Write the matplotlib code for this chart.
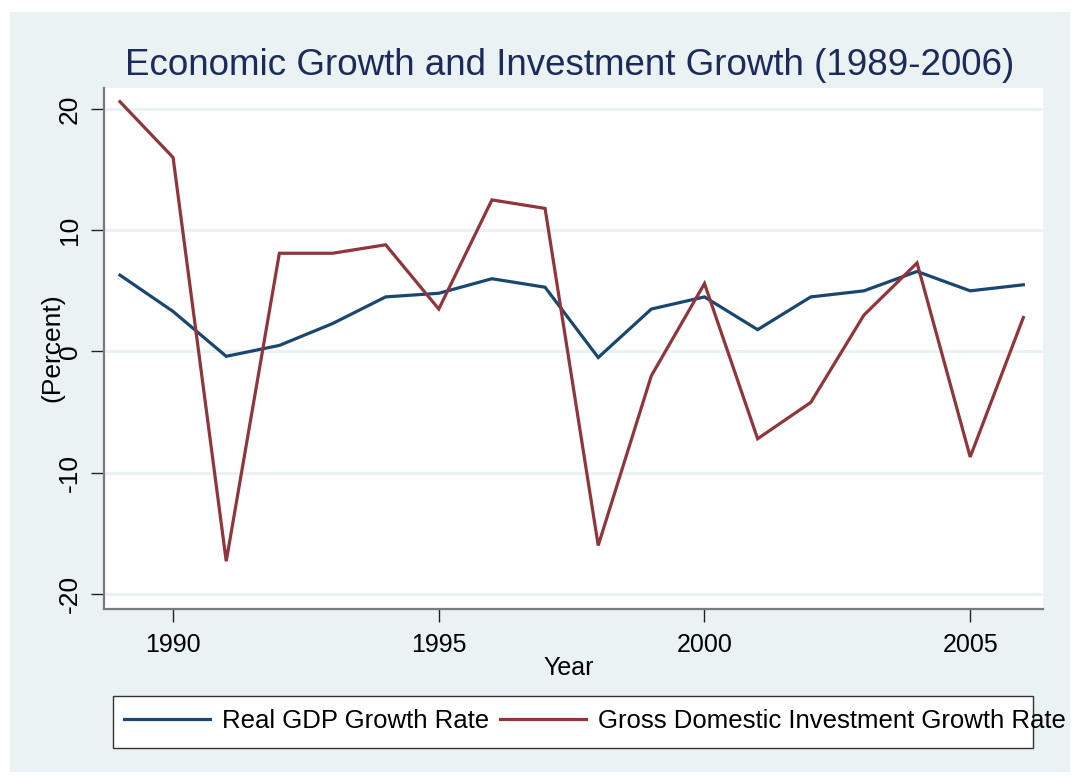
import matplotlib
matplotlib.use('Agg')
import matplotlib.pyplot as plt
from matplotlib.patches import Rectangle

# ---- data ----
years = list(range(1989, 2007))
gdp_growth = [6.3, 3.3, -0.4, 0.5, 2.3, 4.5, 4.8, 6.0, 5.3, -0.5,
              3.5, 4.5, 1.8, 4.5, 5.0, 6.6, 5.0, 5.5]
inv_growth = [20.6, 16.0, -17.3, 8.1, 8.1, 8.8, 3.5, 12.5, 11.8, -16.0,
              -2.0, 5.6, -7.2, -4.2, 3.0, 7.3, -8.7, 2.8]
x_ticks = [1990, 1995, 2000, 2005]
y_ticks = [-20, -10, 0, 10, 20]
series_labels = ["Real GDP Growth Rate", "Gross Domestic Investment Growth Rate"]
title = "Economic Growth and Investment Growth (1989-2006)"

# ---- styles ----
BG = '#eaf2f3'
NAVY = '#1a476f'
MAROON = '#90353b'
TITLE_C = '#1c2b5a'
plt.rcParams['font.family'] = ['Liberation Sans', 'DejaVu Sans']

W, H = 1085, 778
fig = plt.figure(figsize=(W / 100, H / 100), dpi=100, facecolor='white')

# outer light panel
fig.patches.append(Rectangle((10 / W, 1 - 772 / H), 1060 / W, 760 / H,
                             transform=fig.transFigure, facecolor=BG,
                             edgecolor='none', zorder=-10))

ax = fig.add_axes([104 / W, 1 - 609 / H, 939 / W, 521 / H])
ax.set_zorder(1)
ax.set_facecolor('white')

l1, = ax.plot(years, gdp_growth, color=NAVY, lw=2.3, solid_joinstyle='miter')
l2, = ax.plot(years, inv_growth, color=MAROON, lw=2.3, solid_joinstyle='miter')

ax.set_xlim(1988.70, 2006.37)
ax.set_ylim(-21.24, 21.73)
ax.set_xticks(x_ticks)
ax.set_yticks(y_ticks)
ax.set_yticklabels([str(v) for v in y_ticks], rotation=90, va='center')
ax.grid(axis='y', color=BG, lw=2.2)
ax.set_axisbelow(True)

for s in ['top', 'right']:
    ax.spines[s].set_visible(False)
for s in ['left', 'bottom']:
    ax.spines[s].set_color('#7a7a7a')
    ax.spines[s].set_linewidth(1.6)

ax.tick_params(axis='both', direction='out', length=9.4, width=1, color='#222222')
ax.tick_params(axis='x', labelsize=18, pad=8)
ax.tick_params(axis='y', labelsize=19, pad=6.5)

ax.set_xlabel('Year', fontsize=18)
ax.xaxis.label.set_va('baseline')
ax.xaxis.set_label_coords((569 - 104) / 939, (609 - 675) / 521)

ax.set_ylabel('(Percent)', fontsize=19)
ax.yaxis.label.set_ha('center')
ax.yaxis.label.set_va('center')
ax.yaxis.set_label_coords((52 - 104) / 939, (609 - 348) / 521)

fig.text(569.5 / W, 1 - 75 / H, title, ha='center', va='baseline',
         fontsize=26.5, color=TITLE_C)

# legend frame
fig.patches.append(Rectangle((113 / W, 1 - 748 / H), 920 / W, 52 / H,
                             transform=fig.transFigure, facecolor='white',
                             edgecolor='#333333', lw=1.0, zorder=2))
fs = 18.5
em = fs * 100 / 72
leg = fig.legend(handles=[l1, l2], labels=series_labels, loc='center left',
                 bbox_to_anchor=(124 / W, 1 - 721 / H), ncol=2, frameon=False,
                 fontsize=fs, handlelength=86 / em, handletextpad=12 / em,
                 columnspacing=11 / em, borderpad=0, borderaxespad=0)
leg.set_zorder(3)

fig.savefig('out.png', dpi=100, facecolor='white')
